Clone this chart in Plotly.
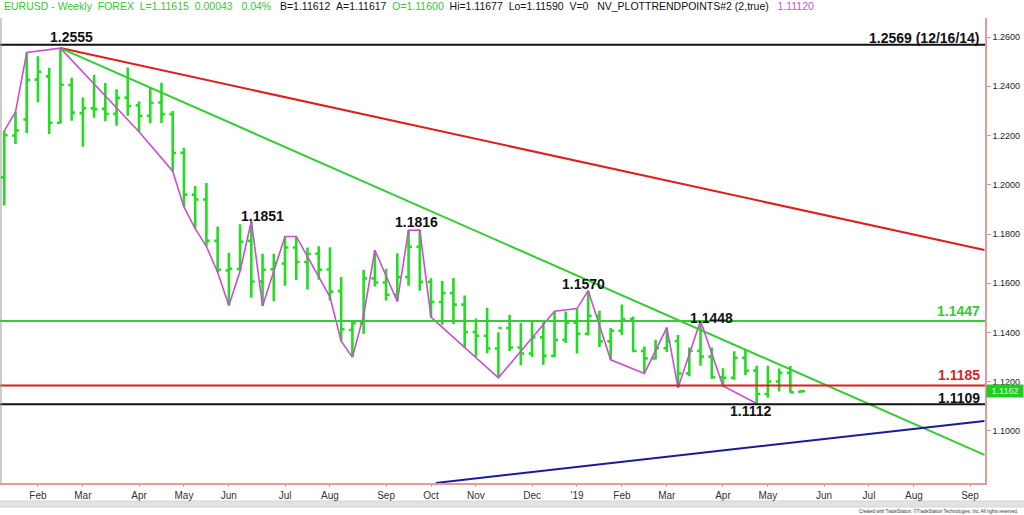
import plotly.graph_objects as go

# ---------------- data ----------------
dates = [
    "2018-01-08", "2018-01-15", "2018-01-22", "2018-01-29", "2018-02-05", "2018-02-12",
    "2018-02-19", "2018-02-26", "2018-03-05", "2018-03-12", "2018-03-19", "2018-03-26",
    "2018-04-02", "2018-04-09", "2018-04-16", "2018-04-23", "2018-04-30", "2018-05-07",
    "2018-05-14", "2018-05-21", "2018-05-28", "2018-06-04", "2018-06-11", "2018-06-18",
    "2018-06-25", "2018-07-02", "2018-07-09", "2018-07-16", "2018-07-23", "2018-07-30",
    "2018-08-06", "2018-08-13", "2018-08-20", "2018-08-27", "2018-09-03", "2018-09-10",
    "2018-09-17", "2018-09-24", "2018-10-01", "2018-10-08", "2018-10-15", "2018-10-22",
    "2018-10-29", "2018-11-05", "2018-11-12", "2018-11-19", "2018-11-26", "2018-12-03",
    "2018-12-10", "2018-12-17", "2018-12-24", "2018-12-31", "2019-01-07", "2019-01-14",
    "2019-01-21", "2019-01-28", "2019-02-04", "2019-02-11", "2019-02-18", "2019-02-25",
    "2019-03-04", "2019-03-11", "2019-03-18", "2019-03-25", "2019-04-01", "2019-04-08",
    "2019-04-15", "2019-04-22", "2019-04-29", "2019-05-06", "2019-05-13", "2019-05-20",
]
opens = [
    1.2030, 1.2200, 1.2265, 1.2427, 1.2440, 1.2252, 1.2405, 1.2291, 1.2310, 1.2308, 1.2288, 1.2354,
    1.2323, 1.2280, 1.2334, 1.2287, 1.2130, 1.1960, 1.1940, 1.1772, 1.1652, 1.1658, 1.1772, 1.1607,
    1.1657, 1.1680, 1.1745, 1.1686, 1.1720, 1.1656, 1.1568, 1.1410, 1.1438, 1.1620, 1.1603, 1.1553,
    1.1625, 1.1748, 1.1606, 1.1524, 1.1560, 1.1513, 1.1402, 1.1387, 1.1335, 1.1418, 1.1339, 1.1315,
    1.1380, 1.1305, 1.1370, 1.1440, 1.1395, 1.1468, 1.1364, 1.1407, 1.1455, 1.1325, 1.1295, 1.1336,
    1.1365, 1.1234, 1.1326, 1.1302, 1.1218, 1.1216, 1.1297, 1.1245, 1.1150, 1.1201, 1.1236, 1.11600,
]
highs = [
    1.2219, 1.2296, 1.2537, 1.2522, 1.2475, 1.2555, 1.2435, 1.2354, 1.2446, 1.2413, 1.2388, 1.2476,
    1.2338, 1.2396, 1.2414, 1.2300, 1.2150, 1.1995, 1.2007, 1.1830, 1.1724, 1.1840, 1.1852, 1.1720,
    1.1720, 1.1790, 1.1790, 1.1745, 1.1750, 1.1746, 1.1625, 1.1446, 1.1655, 1.1734, 1.1659, 1.1722,
    1.1815, 1.1816, 1.1620, 1.1609, 1.1621, 1.1550, 1.1457, 1.1500, 1.1401, 1.1472, 1.1440, 1.1443,
    1.1442, 1.1486, 1.1485, 1.1497, 1.1570, 1.1488, 1.1418, 1.1514, 1.1465, 1.1343, 1.1371, 1.1420,
    1.1390, 1.1339, 1.1448, 1.1339, 1.1255, 1.1324, 1.1334, 1.1265, 1.1265, 1.1254, 1.1264, 1.11677,
]
lows = [
    1.1916, 1.2165, 1.2210, 1.2335, 1.2206, 1.2249, 1.2260, 1.2154, 1.2272, 1.2258, 1.2240, 1.2280,
    1.2215, 1.2250, 1.2251, 1.2055, 1.1910, 1.1822, 1.1750, 1.1645, 1.1510, 1.1650, 1.1541, 1.1508,
    1.1527, 1.1590, 1.1613, 1.1575, 1.1614, 1.1530, 1.1365, 1.1300, 1.1395, 1.1587, 1.1530, 1.1526,
    1.1590, 1.1570, 1.1463, 1.1431, 1.1433, 1.1336, 1.1302, 1.1316, 1.1216, 1.1325, 1.1267, 1.1300,
    1.1269, 1.1301, 1.1357, 1.1315, 1.1388, 1.1341, 1.1289, 1.1390, 1.1320, 1.1234, 1.1290, 1.1321,
    1.1176, 1.1222, 1.1265, 1.1211, 1.1183, 1.1208, 1.1226, 1.1112, 1.1135, 1.1160, 1.1155, 1.11590,
]
closes = [
    1.2201, 1.2221, 1.2426, 1.2459, 1.2252, 1.2406, 1.2293, 1.2311, 1.2307, 1.2288, 1.2353, 1.2320,
    1.2280, 1.2332, 1.2287, 1.2129, 1.1960, 1.1940, 1.1772, 1.1655, 1.1659, 1.1768, 1.1607, 1.1655,
    1.1683, 1.1745, 1.1686, 1.1719, 1.1655, 1.1566, 1.1413, 1.1438, 1.1620, 1.1603, 1.1553, 1.1625,
    1.1748, 1.1606, 1.1524, 1.1560, 1.1513, 1.1402, 1.1387, 1.1335, 1.1418, 1.1339, 1.1315, 1.1380,
    1.1305, 1.1370, 1.1440, 1.1395, 1.1468, 1.1364, 1.1407, 1.1455, 1.1325, 1.1295, 1.1336, 1.1365,
    1.1234, 1.1326, 1.1302, 1.1218, 1.1216, 1.1297, 1.1245, 1.1150, 1.1201, 1.1236, 1.1157, 1.11615,
]

# swing-point (trend points) zigzag
zig_dates = [
    "2018-01-08", "2018-01-15", "2018-01-22", "2018-02-12", "2018-04-02", "2018-04-23",
    "2018-04-30", "2018-05-07", "2018-05-14", "2018-05-21", "2018-05-28", "2018-06-04",
    "2018-06-11", "2018-06-18", "2018-07-02", "2018-07-09", "2018-07-30", "2018-08-06",
    "2018-08-13", "2018-08-20", "2018-08-27", "2018-09-10", "2018-09-17", "2018-09-24",
    "2018-10-01", "2018-11-12", "2018-12-17", "2018-12-31", "2019-01-07", "2019-01-21",
    "2019-02-11", "2019-02-25", "2019-03-04", "2019-03-18", "2019-04-01", "2019-04-22",
]
zig_prices = [
    1.2219, 1.2296, 1.2537, 1.2555, 1.2215, 1.2055,
    1.1910, 1.1822, 1.1750, 1.1645, 1.1510, 1.1650,
    1.1852, 1.1508, 1.1790, 1.1790, 1.1545, 1.1365,
    1.1300, 1.1470, 1.1734, 1.1526, 1.1815, 1.1816,
    1.1463, 1.1216, 1.1486, 1.1497, 1.1570, 1.1289,
    1.1234, 1.1420, 1.1176, 1.1448, 1.1183, 1.1112,
]

# trendlines (two anchor points each)
red_trend_dates = ["2018-02-12", "2019-09-11"]
red_trend_prices = [1.2555, 1.1735]
green_trend_dates = ["2018-02-12", "2019-09-11"]
green_trend_prices = [1.2555, 1.0903]
blue_trend_dates = ["2018-10-04", "2019-09-11"]
blue_trend_prices = [1.0789, 1.1041]

# horizontal levels
level_values = [1.2569, 1.1447, 1.1185, 1.1109]
level_texts = ["1.2569 (12/16/14)", "1.1447", "1.1185", "1.1109"]

# swing labels
swing_texts = ["1.2555", "1.1851", "1.1816", "1.1570", "1.1448", "1.1112"]

# axis ticks
month_tick_dates = [
    "2018-01-29", "2018-02-26", "2018-04-02", "2018-04-30", "2018-05-28", "2018-07-02",
    "2018-07-30", "2018-09-03", "2018-10-01", "2018-10-29", "2018-12-03", "2018-12-31",
    "2019-01-28", "2019-02-25", "2019-04-01", "2019-04-29", "2019-06-03", "2019-07-01",
    "2019-07-29", "2019-09-02",
]
month_tick_labels = [
    "Feb", "Mar", "Apr", "May", "Jun", "Jul", "Aug", "Sep", "Oct", "Nov", "Dec", "'19",
    "Feb", "Mar", "Apr", "May", "Jun", "Jul", "Aug", "Sep",
]
price_ticks = [1.10, 1.12, 1.14, 1.16, 1.18, 1.20, 1.22, 1.24, 1.26]
last_price = 1.11615

# ---------------- styles ----------------
BAR_GREEN = "#22dd22"
LINE_GREEN = "#33cc33"
RED = "#dd1f1f"
BLUE = "#1a1a9c"
MAGENTA = "#c94fd0"
AXIS_PINK = "#e59a9a"
FONT = "Liberation Sans, Arial, sans-serif"

fig = go.Figure()

fig.add_trace(go.Ohlc(
    x=dates, open=opens, high=highs, low=lows, close=closes,
    increasing=dict(line=dict(color=BAR_GREEN, width=2.6)),
    decreasing=dict(line=dict(color=BAR_GREEN, width=2.6)),
    tickwidth=0.3, hoverinfo="skip", showlegend=False,
))

fig.add_trace(go.Scatter(x=red_trend_dates, y=red_trend_prices, mode="lines",
                         line=dict(color=RED, width=2), hoverinfo="skip", showlegend=False))
fig.add_trace(go.Scatter(x=green_trend_dates, y=green_trend_prices, mode="lines",
                         line=dict(color=LINE_GREEN, width=2), hoverinfo="skip", showlegend=False))
fig.add_trace(go.Scatter(x=blue_trend_dates, y=blue_trend_prices, mode="lines",
                         line=dict(color=BLUE, width=2), hoverinfo="skip", showlegend=False))
fig.add_trace(go.Scatter(x=zig_dates, y=zig_prices, mode="lines",
                         line=dict(color=MAGENTA, width=1.6), hoverinfo="skip", showlegend=False))

level_colors = ["#111111", LINE_GREEN, RED, "#111111"]
shapes = []
for v, c in zip(level_values, level_colors):
    shapes.append(dict(type="line", xref="paper", x0=0, x1=1, yref="y", y0=v, y1=v,
                       line=dict(color=c, width=2), layer="above"))
# left thin border
shapes.append(dict(type="line", xref="paper", x0=0.001, x1=0.001, yref="paper", y0=0, y1=1,
                   line=dict(color="#9a9a9a", width=1)))
# scrollbar strip
shapes.append(dict(type="rect", xref="paper", x0=0, x1=1.04, yref="paper", y0=-0.0516, y1=-0.0387,
                   fillcolor="#e2e2e2", line=dict(color="#d4d4d4", width=1), layer="below"))

annotations = []
# level labels (right side)
level_label_y = [1.2596, 1.1487, 1.1227, 1.1134]
for t, c, yv in zip(level_texts, level_colors, level_label_y):
    annotations.append(dict(x=0.997, xref="paper", y=yv, yref="y", text="<b>%s</b>" % t,
                            showarrow=False, xanchor="right", yanchor="middle",
                            font=dict(family=FONT, size=14, color=c)))

# swing labels
swing_x = ["2018-02-19", "2018-06-18", "2018-09-22", "2019-01-04", "2019-03-25", "2019-04-18"]
swing_y = [1.2600, 1.1873, 1.1849, 1.1597, 1.1459, 1.1081]
for t, xv, yv in zip(swing_texts, swing_x, swing_y):
    annotations.append(dict(x=xv, y=yv, text="<b>%s</b>" % t, showarrow=False,
                            xanchor="center", yanchor="middle",
                            font=dict(family=FONT, size=14, color="#111111")))

# header
G = "#39c439"
header = ("<span style='color:%s'>EURUSD - Weekly&nbsp;&nbsp;FOREX&nbsp;&nbsp;L=1.11615&nbsp;&nbsp;0.00043&nbsp;&nbsp;&nbsp;0.04%%</span>"
          "&nbsp;&nbsp;&nbsp;B=1.11612&nbsp;&nbsp;A=1.11617&nbsp;&nbsp;<span style='color:%s'>O=1.11600</span>"
          "&nbsp;&nbsp;Hi=1.11677&nbsp;&nbsp;Lo=1.11590&nbsp;&nbsp;V=0&nbsp;&nbsp;&nbsp;NV_PLOTTRENDPOINTS#2 (2,true)"
          "&nbsp;&nbsp;&nbsp;<span style='color:%s'>1.11120</span>") % (G, G, MAGENTA)
annotations.append(dict(x=0.002, xref="paper", y=1.0, yref="paper", yshift=4, text=header,
                        showarrow=False, xanchor="left", yanchor="bottom",
                        font=dict(family=FONT, size=10.5, color="#111111")))

# last price marker
annotations.append(dict(x=1.0, xref="paper", y=last_price, yref="y", text="1.1162",
                        showarrow=False, xanchor="left", yanchor="middle", xshift=1,
                        bgcolor="#22cc22", borderpad=1, width=34,
                        font=dict(family=FONT, size=9, color="#d8ffd8")))

# footer
annotations.append(dict(x=1.036, xref="paper", y=-0.060, yref="paper",
                        text="Created with TradeStation. ©TradeStation Technologies, Inc. All rights reserved.",
                        showarrow=False, xanchor="right", yanchor="middle",
                        font=dict(family=FONT, size=4.5, color="#333333")))

fig.update_layout(
    width=1024, height=515,
    margin=dict(l=0, r=39, t=18, b=32),
    paper_bgcolor="white", plot_bgcolor="white",
    shapes=shapes, annotations=annotations,
    showlegend=False,
    xaxis=dict(
        type="date", range=["2018-01-05 08:00", "2019-09-11 08:00"],
        rangeslider=dict(visible=False),
        tickmode="array", tickvals=month_tick_dates, ticktext=month_tick_labels,
        showgrid=False, zeroline=False,
        showline=True, linecolor=AXIS_PINK, linewidth=1.5,
        ticks="outside", ticklen=2, tickcolor=AXIS_PINK,
        tickfont=dict(family=FONT, size=10, color="#333333"),
    ),
    yaxis=dict(
        side="right", range=[1.07888, 1.26772],
        tickmode="array", tickvals=price_ticks, tickformat=".4f",
        showgrid=False, zeroline=False,
        showline=True, linecolor=AXIS_PINK, linewidth=1.5,
        ticks="outside", ticklen=4, tickcolor=AXIS_PINK,
        tickfont=dict(family=FONT, size=9, color="#222222"),
    ),
)

fig.write_html("out.html", config={"displayModeBar": False},
               post_script="document.body.style.margin='0';document.body.style.overflow='hidden';")
